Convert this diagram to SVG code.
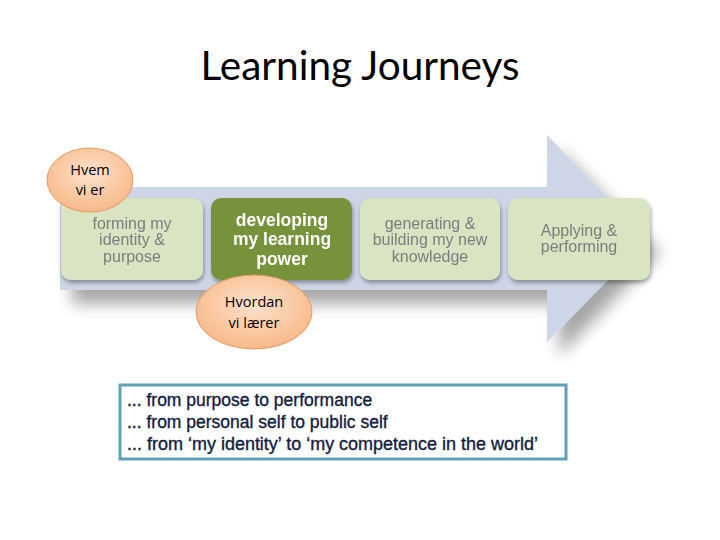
<svg xmlns="http://www.w3.org/2000/svg" width="720" height="540" viewBox="0 0 720 540">
<defs>
<filter id="arrowShadow" x="-10%" y="-10%" width="130%" height="150%">
<feGaussianBlur in="SourceAlpha" stdDeviation="8"/>
<feOffset dx="12" dy="14" result="b"/>
<feComponentTransfer><feFuncA type="linear" slope="0.35"/></feComponentTransfer>
<feMerge><feMergeNode/><feMergeNode in="SourceGraphic"/></feMerge>
</filter>
<filter id="boxShadow" x="-10%" y="-10%" width="125%" height="130%">
<feGaussianBlur in="SourceAlpha" stdDeviation="2"/>
<feOffset dx="1" dy="3" result="b"/>
<feComponentTransfer><feFuncA type="linear" slope="0.35"/></feComponentTransfer>
<feMerge><feMergeNode/><feMergeNode in="SourceGraphic"/></feMerge>
</filter>
<radialGradient id="peach" cx="50%" cy="40%" r="60%">
<stop offset="0" stop-color="#fde3cc"/>
<stop offset="1" stop-color="#f8b888"/>
</radialGradient>
<style>
.light{fill:#d8e4c2;}
.dark{fill:#76923b;}
.lt{font-family:"Liberation Sans",Arial,sans-serif;font-size:16px;fill:#7d7d7d;text-anchor:middle;}
.dt{font-family:"Liberation Sans",Arial,sans-serif;font-size:17.5px;font-weight:bold;fill:#ffffff;text-anchor:middle;}
.ell{fill:url(#peach);stroke:#e49a62;stroke-width:1;}
.et{font-family:"Open Sans","Liberation Sans",sans-serif;font-size:14.5px;fill:#000;text-anchor:middle;}
.bt{font-family:"Liberation Sans",Arial,sans-serif;font-size:17.5px;fill:#13203f;stroke:#13203f;stroke-width:0.35;}
</style>
</defs>
<rect width="720" height="540" fill="#ffffff"/>
<text x="360" y="80" font-family="Lato,'Open Sans',sans-serif" font-size="40" fill="#000" text-anchor="middle" textLength="319" lengthAdjust="spacingAndGlyphs">Learning Journeys</text>
<g id="arrow">
<path d="M60,187 L547,187 L547,135 L648,239 L547,342 L547,290 L60,290 Z" fill="#cdd5e6" filter="url(#arrowShadow)"/>
</g>
<g id="connectors"></g>
<g id="node-forming" filter="url(#boxShadow)">
<rect class="light" x="61" y="198" width="142" height="82" rx="10"/>
<text class="lt" x="132" y="229">forming my</text>
<text class="lt" x="132" y="245">identity &amp;</text>
<text class="lt" x="132" y="262">purpose</text>
</g>
<g id="node-developing" filter="url(#boxShadow)">
<rect class="dark" x="211" y="198" width="141" height="82" rx="10"/>
<text class="dt" x="282" y="226">developing</text>
<text class="dt" x="282" y="245">my learning</text>
<text class="dt" x="282" y="265">power</text>
</g>
<g id="node-generating" filter="url(#boxShadow)">
<rect class="light" x="360" y="198" width="140" height="82" rx="10"/>
<text class="lt" x="430" y="229">generating &amp;</text>
<text class="lt" x="430" y="245">building my new</text>
<text class="lt" x="430" y="262">knowledge</text>
</g>
<g id="node-applying" filter="url(#boxShadow)">
<rect class="light" x="508" y="198" width="142" height="82" rx="10"/>
<text class="lt" x="579" y="236">Applying &amp;</text>
<text class="lt" x="579" y="252">performing</text>
</g>
<g id="node-hvem">
<ellipse class="ell" cx="90" cy="180" rx="43" ry="32"/>
<text class="et" x="90" y="175">Hvem</text>
<text class="et" x="90" y="195">vi er</text>
</g>
<g id="node-hvordan">
<ellipse class="ell" cx="254" cy="312" rx="58" ry="37"/>
<text class="et" x="254" y="307">Hvordan</text>
<text class="et" x="254" y="328">vi lærer</text>
</g>
<g id="node-textbox">
<rect x="120" y="385" width="446" height="74" fill="#ffffff" stroke="#5fa2b4" stroke-width="3"/>
<text class="bt" x="127" y="406">... from purpose to performance</text>
<text class="bt" x="127" y="428">... from personal self to public self</text>
<text class="bt" x="127" y="450" textLength="411" lengthAdjust="spacingAndGlyphs">... from ‘my identity’ to ‘my competence in the world’</text>
</g>
</svg>
